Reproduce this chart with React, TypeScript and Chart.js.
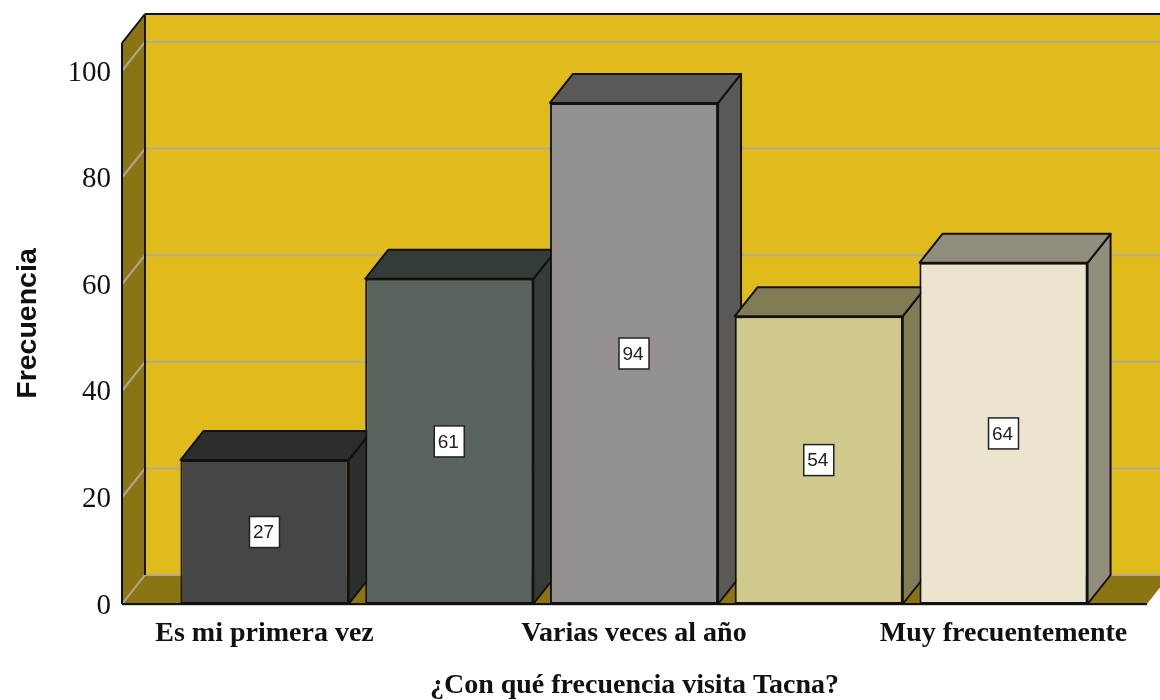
import React, { useEffect, useRef } from "react";
import { Chart, registerables } from "chart.js";

Chart.register(...registerables);

const categories = ["Es mi primera vez", "", "Varias veces al año", "", "Muy frecuentemente"];
const positions = [0, 1, 2, 3, 4];
const frequencies = [27, 61, 94, 54, 64];
const frontColors = ["#454648", "#5A635E", "#959190", "#CFC98E", "#EBE5D0"];
const depthColors = ["#2C2D2D", "#343C38", "#5B5958", "#807C56", "#928E7E"];
const yTicks = [0, 20, 40, 60, 80, 100];
const yTitle = "Frecuencia";
const xTitle = "¿Con qué frecuencia visita Tacna?";

const DX = 23;
const DY = -29;
const WALL = "#E0BB1C";
const SHADE = "#8B7414";
const GRID = "#B0AB90";
const INK = "#111111";

function poly(ctx: CanvasRenderingContext2D, pts: number[][], fill: string | null, stroke: string | null, lw = 2) {
  ctx.beginPath();
  pts.forEach((p, i) => (i ? ctx.lineTo(p[0], p[1]) : ctx.moveTo(p[0], p[1])));
  ctx.closePath();
  if (fill) {
    ctx.fillStyle = fill;
    ctx.fill();
  }
  if (stroke) {
    ctx.strokeStyle = stroke;
    ctx.lineWidth = lw;
    ctx.lineJoin = "round";
    ctx.stroke();
  }
}

function line(ctx: CanvasRenderingContext2D, x1: number, y1: number, x2: number, y2: number, color: string, lw: number) {
  ctx.beginPath();
  ctx.moveTo(x1, y1);
  ctx.lineTo(x2, y2);
  ctx.strokeStyle = color;
  ctx.lineWidth = lw;
  ctx.stroke();
}

const box3d = {
  id: "box3d",
  beforeDatasetsDraw(chart: any) {
    const { ctx, chartArea: a, scales } = chart;
    const y = scales.y;
    const l = a.left, r = a.right, t = a.top, b = a.bottom;
    ctx.save();
    poly(ctx, [[l + DX, t + DY], [r + DX, t + DY], [r + DX, b + DY], [l + DX, b + DY]], WALL, null);
    poly(ctx, [[l, t], [l + DX, t + DY], [l + DX, b + DY], [l, b]], SHADE, null);
    poly(ctx, [[l, b], [l + DX, b + DY], [r + DX, b + DY], [r, b]], SHADE, null);
    yTicks.forEach((v) => {
      const py = y.getPixelForValue(v);
      line(ctx, l, py, l + DX, py + DY, GRID, 2);
      line(ctx, l + DX, py + DY, r + DX, py + DY, GRID, 2);
    });
    line(ctx, l + DX, t + DY, r + DX, t + DY, INK, 2);
    line(ctx, l + DX, t + DY, l + DX, b + DY, INK, 2);
    line(ctx, l, t, l + DX, t + DY, INK, 2);
    line(ctx, l, t, l, b, INK, 2);
    line(ctx, l, b + 1, r, b + 1, GRID, 1);
    line(ctx, l, b, r, b, INK, 2);
    const bars = chart.getDatasetMeta(0).data;
    bars.forEach((bar: any, i: number) => {
      const p = bar.getProps(["x", "y", "base", "width"], true);
      const x0 = p.x - p.width / 2;
      const x1 = p.x + p.width / 2;
      poly(ctx, [[x1, p.y], [x1 + DX, p.y + DY], [x1 + DX, p.base + DY], [x1, p.base]], depthColors[i], INK);
      poly(ctx, [[x0, p.y], [x0 + DX, p.y + DY], [x1 + DX, p.y + DY], [x1, p.y]], depthColors[i], INK);
    });
    ctx.restore();
  },
  afterDatasetsDraw(chart: any) {
    const { ctx } = chart;
    const bars = chart.getDatasetMeta(0).data;
    ctx.save();
    bars.forEach((bar: any, i: number) => {
      const p = bar.getProps(["x", "y", "base"], true);
      const cy = (p.y + p.base) / 2;
      const w = 30, h = 31;
      ctx.fillStyle = "#FFFFFF";
      ctx.fillRect(p.x - w / 2, cy - h / 2, w, h);
      ctx.strokeStyle = "#222222";
      ctx.lineWidth = 1.5;
      ctx.strokeRect(p.x - w / 2, cy - h / 2, w, h);
      ctx.fillStyle = "#222222";
      ctx.font = '19px "Liberation Sans"';
      ctx.textAlign = "center";
      ctx.textBaseline = "middle";
      ctx.fillText(String(frequencies[i]), p.x - 1, cy + 1);
    });
    ctx.restore();
  },
};

export default function App() {
  const ref = useRef<HTMLCanvasElement | null>(null);
  useEffect(() => {
    const chart = new Chart(ref.current as HTMLCanvasElement, {
      type: "bar",
      data: {
        datasets: [
          {
            data: positions.map((x, i) => ({ x, y: frequencies[i] })),
            backgroundColor: frontColors,
            borderColor: INK,
            borderWidth: 2,
            borderSkipped: false,
            barPercentage: 0.91,
            categoryPercentage: 1,
          },
        ],
      },
      options: {
        responsive: false,
        animation: false,
        layout: { padding: { top: 43, right: 13, left: 0, bottom: 0 } },
        plugins: { legend: { display: false }, tooltip: { enabled: false } },
        scales: {
          x: {
            type: "linear",
            offset: false,
            min: -0.7713,
            max: 4.7767,
            grid: { display: false },
            border: { display: false },
            afterFit: (s: any) => {
              s.height = 96;
            },
            afterBuildTicks: (s: any) => {
              s.ticks = positions.filter((p) => categories[p]).map((value) => ({ value }));
            },
            ticks: {
              autoSkip: false,
              maxRotation: 0,
              padding: 5,
              color: "#111111",
              font: { family: '"Liberation Serif"', size: 28, weight: "bold" },
              callback: (v: any) => categories[v] ?? "",
            },
            title: {
              display: true,
              text: xTitle,
              color: "#111111",
              font: { family: '"Liberation Serif"', size: 28, weight: "bold" },
              padding: { top: 0, bottom: -3 },
            },
          },
          y: {
            min: 0,
            max: 105.25,
            grid: { display: false },
            border: { display: false },
            afterFit: (s: any) => {
              s.width = 122;
            },
            afterBuildTicks: (s: any) => {
              s.ticks = yTicks.map((value) => ({ value }));
            },
            ticks: {
              includeBounds: false,
              padding: 3,
              labelOffset: 2,
              color: "#111111",
              font: { family: '"Liberation Serif"', size: 29 },
            },
            title: {
              display: true,
              text: yTitle,
              color: "#111111",
              font: { family: '"Liberation Sans"', size: 28.5, weight: "bold" },
              padding: { top: 11, bottom: 0 },
            },
          },
        },
      },
      plugins: [box3d],
    } as any);
    return () => chart.destroy();
  }, []);
  return (
    <canvas
      ref={ref}
      width={1160}
      height={700}
      style={{ position: "fixed", left: 0, top: 0, width: 1160, height: 700, background: "#FFFFFF" }}
    />
  );
}
